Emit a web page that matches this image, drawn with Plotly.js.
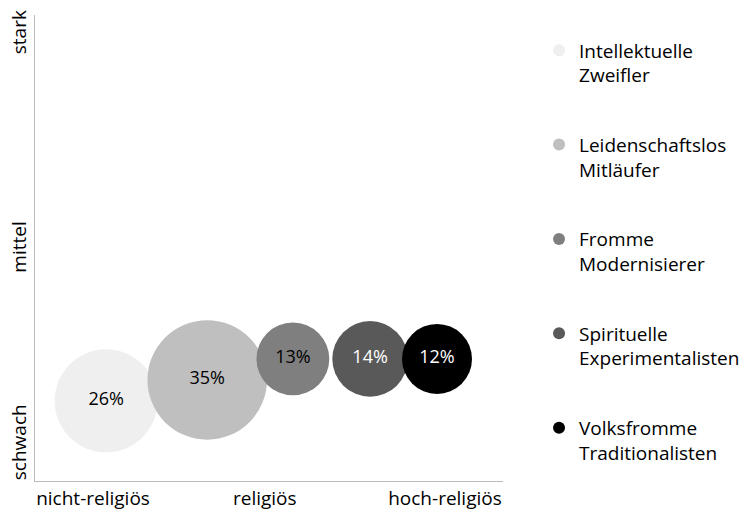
<!DOCTYPE html>
<html>
<head>
<meta charset="utf-8">
<script src="https://cdn.plot.ly/plotly-3.0.1.min.js"></script>
<style>html,body{margin:0;padding:0;background:#fff;}#chart{width:744px;height:514px;}</style>
</head>
<body>
<div id="chart"></div>
<script>
// Data
const groups = ["Intellektuelle<br>Zweifler", "Leidenschaftslos<br>Mitläufer", "Fromme<br>Modernisierer", "Spirituelle<br>Experimentalisten", "Volksfromme<br>Traditionalisten"];
const shares = [26, 35, 13, 14, 12];
const religiosity = [1.52, 3.68, 5.51, 7.16, 8.59];
const intensity = [1.72, 2.17, 2.62, 2.62, 2.62];
const xTickVals = [1.24, 4.91, 8.76];
const xTickText = ["nicht-religiös", "religiös", "hoch-religiös"];
const yTickVals = [0.77, 4.96, 9.57];
const yTickText = ["schwach", "mittel", "stark"];

const colors = ["#efefef", "#bfbfbf", "#7f7f7f", "#595959", "#000000"];
const textColors = ["#000", "#000", "#000", "#fff", "#fff"];
const FONT = "Open Sans, sans-serif";

const traces = groups.map((g, i) => ({
  type: "scatter",
  mode: "markers+text",
  name: g,
  legendgroup: "g" + i,
  x: [religiosity[i]],
  y: [intensity[i]],
  text: [shares[i] + "%"],
  textposition: "middle center",
  textfont: {family: FONT, size: 18, color: textColors[i]},
  marker: {size: [shares[i]], sizemode: "area", sizeref: 2/408, color: colors[i], opacity: 1, line: {width: 0}},
  hoverinfo: "none"
}));

const layout = {
  width: 744, height: 514,
  margin: {l: 35, r: 241, t: 15, b: 33, autoexpand: false},
  paper_bgcolor: "#fff", plot_bgcolor: "#fff",
  font: {family: FONT, size: 19, color: "#000"},
  xaxis: {range: [0, 10], showgrid: false, zeroline: false, showline: true, linecolor: "#bbb", linewidth: 1,
          tickmode: "array", tickvals: xTickVals, ticktext: xTickText, ticks: "", tickfont: {size: 19}},
  yaxis: {range: [0, 10], showgrid: false, zeroline: false, showline: true, linecolor: "#bbb", linewidth: 1,
          tickmode: "array", tickvals: yTickVals, ticktext: yTickText, ticks: "", tickangle: -90, tickfont: {size: 19}},
  showlegend: true,
  legend: {x: 1.077, xanchor: "left", y: 0.965, yanchor: "top", itemsizing: "constant", valign: "top",
           traceorder: "grouped", tracegroupgap: 42, font: {family: FONT, size: 19, color: "#000"}, itemwidth: 30}
};

Plotly.newPlot("chart", traces, layout, {displayModeBar: false, staticPlot: true});
</script>
</body>
</html>
